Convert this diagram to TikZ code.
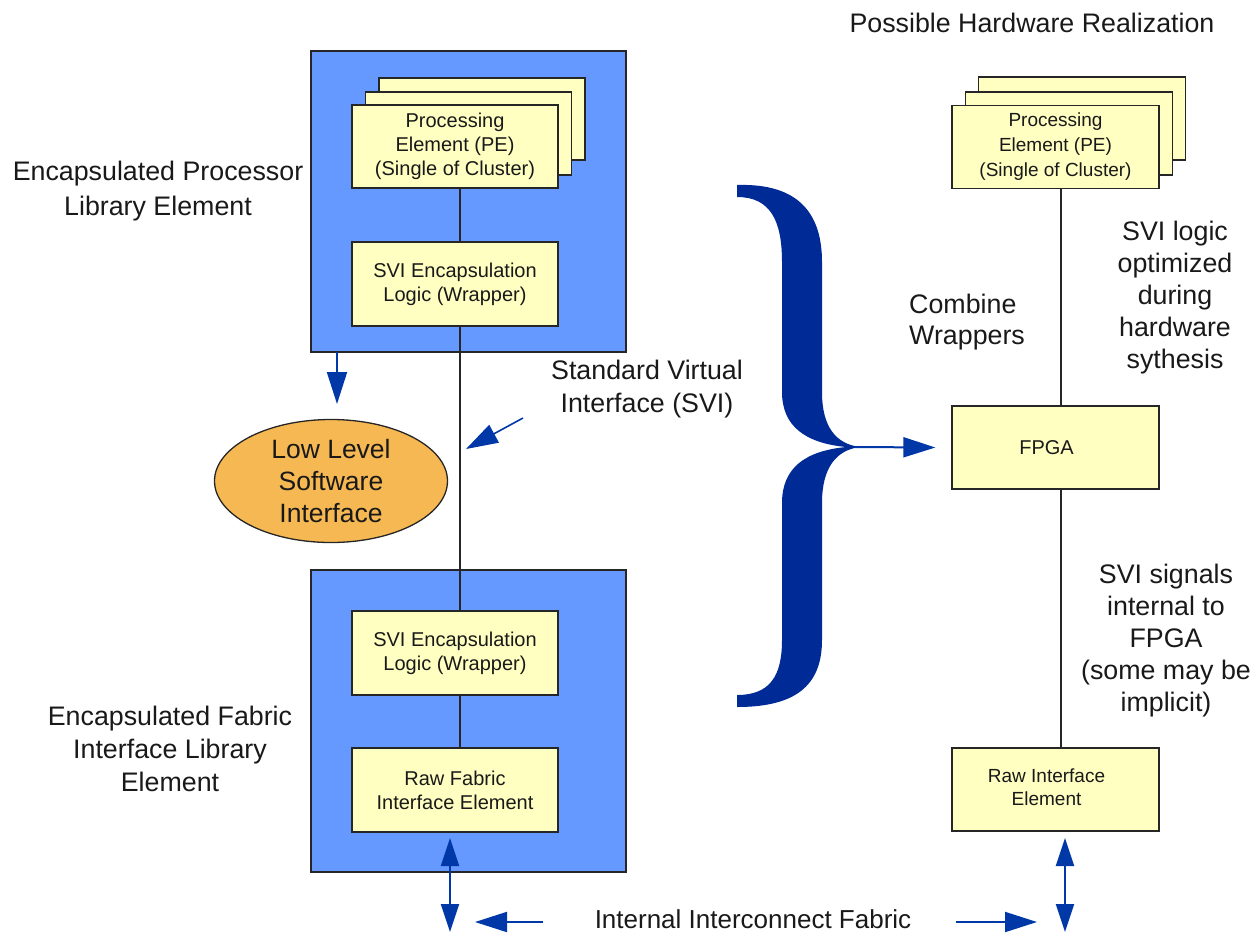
\documentclass[tikz,border=0pt]{standalone}
\usepackage{fontspec}
\setmainfont{Liberation Sans}
\usetikzlibrary{arrows.meta,shapes.geometric}
\definecolor{blueboxc}{RGB}{102,153,255}
\definecolor{yboxc}{RGB}{255,255,194}
\definecolor{navyc}{RGB}{0,42,150}
\definecolor{arrowc}{RGB}{0,56,168}
\definecolor{orangec}{RGB}{246,184,82}
\definecolor{txtc}{RGB}{25,25,25}
\begin{document}
\begin{tikzpicture}[x=1pt,y=-1pt,
  container/.style={draw=black!85, line width=1.5pt, fill=blueboxc, inner sep=0pt},
  ybox/.style={draw=black!85, line width=1.3pt, fill=yboxc, minimum width=206pt, minimum height=83pt, inner sep=0pt, align=center, font=\fontsize{20}{24}\selectfont, text=txtc},
  lbl/.style={align=center, font=\fontsize{26.8}{33}\selectfont, text=txtc, inner sep=0pt},
  conn/.style={draw=black!85, line width=1.3pt},
  barrow/.style={draw=arrowc, line width=2pt, -{Triangle[length=32pt,width=20pt]}},
  dblarrow/.style={draw=arrowc, line width=2pt, {Triangle[length=28pt,width=18pt]}-{Triangle[length=28pt,width=18pt]}}
]
\useasboundingbox (0,0) rectangle (1256,935);

% ---------- left column ----------
\node[container, minimum width=315pt, minimum height=301pt] (encp) at (468.5,201.5) {};
\node[container, minimum width=315pt, minimum height=302pt] (encf) at (468.5,721) {};

\node[ybox, minimum height=82pt] (peC) at (482,119) {};
\node[ybox, minimum height=83pt] (peB) at (468.5,133.5) {};
\node[ybox] (pe) at (455,146.5) {Processing\\Element (PE)\\(Single of Cluster)};
\node[ybox, minimum height=84pt] (w1) at (455,284) {SVI Encapsulation\\Logic (Wrapper)};
\node[ybox, minimum height=84pt] (w2) at (455,653) {SVI Encapsulation\\Logic (Wrapper)};
\node[ybox, minimum height=84pt] (raw) at (455,790) {Raw Fabric\\Interface Element};

\draw[conn] (pe.south -| 460,0) -- (w1.north -| 460,0);
\draw[conn] (w1.south -| 460,0) -- (w2.north -| 460,0);
\draw[conn] (w2.south -| 460,0) -- (raw.north -| 460,0);

\node[ellipse, draw=black!85, line width=1.3pt, fill=orangec, minimum width=233pt, minimum height=123pt, inner sep=0pt, align=center, font=\fontsize{26.5}{32}\selectfont, text=txtc] (llsi) at (331,481) {Low Level\\Software\\Interface};

\coordinate (dA) at (337,352);
\coordinate (dB) at (337,404);
\draw[barrow] (dA) -- (dB);

\coordinate (sA) at (523,418);
\coordinate (sB) at (466,449);
\draw[barrow, line width=1.6pt] (sA) -- (sB);

% ---------- labels ----------
\node[lbl, font=\fontsize{26.8}{35}\selectfont] (tproc) at (158,191) {Encapsulated Processor\\Library Element};
\node[lbl] (tfab) at (170,749) {Encapsulated Fabric\\Interface Library\\Element};
\node[lbl] (tsvi) at (647,389) {Standard Virtual\\Interface (SVI)};
\node[lbl] (ttitle) at (1032,23) {Possible Hardware Realization};
\node[lbl, align=left, anchor=west, font=\fontsize{26.8}{31}\selectfont] (tcomb) at (909,322) {Combine\\Wrappers};
\node[lbl, font=\fontsize{26.8}{32}\selectfont] (topt) at (1175,298) {SVI logic\\optimized\\during\\hardware\\sythesis};
\node[lbl, font=\fontsize{26.8}{32}\selectfont] (tsig) at (1166,641) {SVI signals\\internal to\\FPGA\\(some may be\\implicit)};
\node[lbl, font=\fontsize{26}{30}\selectfont] (tiif) at (753,919) {Internal Interconnect Fabric};

% ---------- brace ----------
\fill[navyc] (737,185) .. controls (800,183) and (822,215) .. (822,262)
  -- (822,392)
  .. controls (822,427) and (836,444) .. (860,447)
  .. controls (836,450) and (822,468) .. (822,503)
  -- (822,640)
  .. controls (822,686) and (795,707) .. (737,707)
  -- (737,695)
  .. controls (770,695) and (782,676) .. (782,640)
  -- (782,503)
  .. controls (782,468) and (805,451) .. (846,447)
  .. controls (805,443) and (782,426) .. (782,392)
  -- (782,262)
  .. controls (782,220) and (770,197) .. (737,197)
  -- cycle;
\coordinate (brtip) at (855,447);

% ---------- right column ----------
\node[ybox, minimum width=207pt, minimum height=83pt] (rpeC) at (1082,118.5) {};
\node[ybox, minimum width=207pt, minimum height=83pt] (rpeB) at (1069,133.5) {};
\node[ybox, minimum width=207pt, minimum height=83pt, font=\fontsize{19}{25}\selectfont] (rpe) at (1055.5,147) {Processing\\Element (PE)\\(Single of Cluster)};
\node[ybox, minimum width=207pt, minimum height=83pt, font=\fontsize{20}{24}\selectfont] (fpga) at (1055.5,447.5) {\hspace*{-18pt}FPGA};
\node[ybox, minimum width=207pt, minimum height=83pt, font=\fontsize{19}{23}\selectfont] (rawi) at (1055.5,789.5) {\hspace*{-18pt}\begin{tabular}{@{}c@{}}Raw Interface\\Element\end{tabular}};

\draw[conn] (rpe.south -| 1061,0) -- (fpga.north -| 1061,0);
\draw[conn] (fpga.south -| 1061,0) -- (rawi.north -| 1061,0);

\draw[barrow] (brtip) -- ([xshift=-16pt]fpga.west);

% ---------- bottom arrows ----------
\coordinate (lu) at (450,838);
\coordinate (ld) at (450,932);
\draw[dblarrow] (lu) -- (ld);
\coordinate (ru) at (1065,838);
\coordinate (rd) at (1065,932);
\draw[dblarrow] (ru) -- (rd);
\coordinate (lhA) at (543,922);
\coordinate (lhB) at (475,922);
\draw[barrow] (lhA) -- (lhB);
\coordinate (rhA) at (956,922);
\coordinate (rhB) at (1037,922);
\draw[barrow] (rhA) -- (rhB);
\end{tikzpicture}
\end{document}
